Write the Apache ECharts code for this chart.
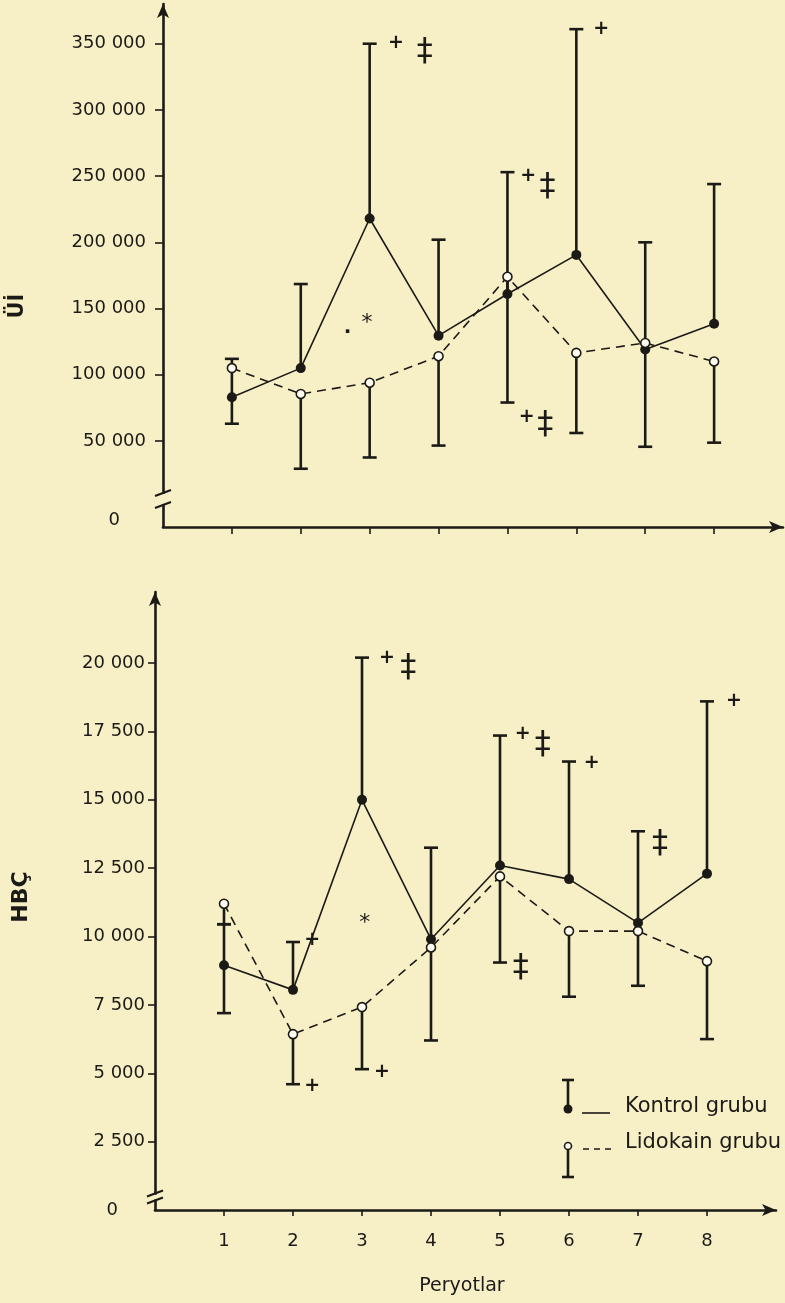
<!DOCTYPE html>
<html><head><meta charset="utf-8">
<script src="https://cdn.jsdelivr.net/npm/echarts@6/dist/echarts.min.js"></script>
<style>html,body{margin:0;padding:0;background:#f7f0c6;} #c{width:785px;height:1303px;}</style>
</head><body><div id="c"></div>
<script>
// ---------- data ----------
const periods = [1, 2, 3, 4, 5, 6, 7, 8];
const periodLabels = ['1', '2', '3', '4', '5', '6', '7', '8'];

// Upper panel (Üİ)
const uiKontrol      = [83000, 105000, 218000, 129500, 161000, 190500, 119000, 138500];
const uiLidokain     = [105000, 85500, 94000, 114000, 174000, 116500, 124000, 110000];
const uiKontrolHigh  = [105000, 168500, 350000, 202000, 253000, 361000, null, 244000];
const uiKontrolLow   = [63000, null, null, null, null, null, 45600, null];
const uiLidokainHigh = [112000, null, null, null, null, null, 200000, null];
const uiLidokainLow  = [null, 29000, 37500, 46500, 79000, 56000, null, 48700];
const uiTicks = [50000, 100000, 150000, 200000, 250000, 300000, 350000];
const uiMarks = [
  [3.38, 350800, '+'], [3.80, 344000, '‡'], [2.96, 139200, '*'], [2.68, 131600, '·'],
  [5.30, 250300, '+'], [5.58, 241900, '‡'], [5.28, 68100, '+'], [5.55, 62100, '‡'],
  [6.36, 361300, '+']
];

// Lower panel (HBÇ)
const hbcKontrol      = [8950, 8050, 15000, 9900, 12600, 12100, 10500, 12300];
const hbcLidokain     = [11200, 6430, 7420, 9600, 12200, 10200, 10200, 9100];
const hbcKontrolHigh  = [10450, 9800, 20200, 13250, 17350, 16400, 13850, 18600];
const hbcKontrolLow   = [7200, null, null, null, null, null, null, null];
const hbcLidokainHigh = [null, null, null, null, null, null, null, null];
const hbcLidokainLow  = [10450, 4600, 5150, 6200, 9050, 7800, 8200, 6250];
const hbcTicks = [2500, 5000, 7500, 10000, 12500, 15000, 17500, 20000];
const hbcMarks = [
  [2.28, 9870, '+'], [2.28, 4530, '+'], [3.36, 20200, '+'], [3.67, 19850, '‡'],
  [3.29, 5040, '+'], [3.04, 10490, '*'], [5.33, 17400, '+'], [5.62, 17000, '‡'],
  [5.30, 8850, '‡'], [6.33, 16340, '+'], [7.32, 13410, '‡'], [8.39, 18600, '+']
];

// ---------- style ----------
const INK = '#1c1a16';
const BG = '#f7f0c6';
const FONT = 'DejaVu Sans';

function fmt(v) { return String(v).replace(/\B(?=(\d{3})+(?!\d))/g, ' '); }

function errSeries(ai, vals, ends, others) {
  const data = [];
  periods.forEach((p, i) => { if (ends[i] != null) data.push([p, vals[i], ends[i], others[i]]); });
  return {
    type: 'custom', xAxisIndex: ai, yAxisIndex: ai, clip: false, z: 2, silent: true,
    encode: { x: 0, y: [1, 2] },
    data,
    renderItem(params, api) {
      const p = api.coord([api.value(0), api.value(1)]);
      const e = api.coord([api.value(0), api.value(2)]);
      const ch = [{ type: 'line', shape: { x1: p[0], y1: p[1], x2: e[0], y2: e[1] },
        style: { stroke: INK, lineWidth: 2.6 } }];
      if (api.value(2) !== api.value(3)) {
        ch.push({ type: 'line', shape: { x1: e[0] - 7, y1: e[1], x2: e[0] + 7, y2: e[1] },
          style: { stroke: INK, lineWidth: 2.6 } });
      }
      return { type: 'group', children: ch };
    }
  };
}

function lineSeries(ai, vals, dashed) {
  return {
    type: 'line', xAxisIndex: ai, yAxisIndex: ai, z: 4, silent: true,
    data: periods.map((p, i) => [p, vals[i]]),
    symbol: 'circle', symbolSize: dashed ? 9 : 10,
    itemStyle: dashed ? { color: '#fffdf2', borderColor: INK, borderWidth: 1.6 } : { color: INK },
    lineStyle: { color: INK, width: 1.6, type: dashed ? [9, 6] : 'solid' }
  };
}

function markSeries(ai, marks) {
  return {
    type: 'custom', xAxisIndex: ai, yAxisIndex: ai, clip: false, z: 5, silent: true,
    encode: { x: 0, y: 1 },
    data: marks.map(m => [m[0], m[1]]),
    renderItem(params, api) {
      const c = api.coord([api.value(0), api.value(1)]);
      const t = marks[params.dataIndex][2];
      let font = 'bold 19px ' + FONT;
      if (t === '‡') font = '32px ' + FONT;
      if (t === '*') font = '22px ' + FONT;
      if (t === '·') font = 'bold 20px ' + FONT;
      return { type: 'text', x: c[0], y: c[1],
        style: { text: t, font, fill: INK, align: 'center', verticalAlign: 'middle' } };
    }
  };
}

function breakSeries(ai, yA, yB) {
  return {
    type: 'custom', xAxisIndex: ai, yAxisIndex: ai, clip: false, z: 6, silent: true,
    encode: { x: 0, y: [1, 2] },
    data: [[0, yA, yB]],
    renderItem(params, api) {
      const a = api.coord([0, api.value(1)]);
      const b = api.coord([0, api.value(2)]);
      return { type: 'group', children: [
        { type: 'rect', shape: { x: a[0] - 4, y: a[1] + 1, width: 8, height: b[1] - a[1] - 2 },
          style: { fill: BG } },
        { type: 'line', shape: { x1: a[0] - 8, y1: a[1] + 3, x2: a[0] + 8, y2: a[1] - 3 },
          style: { stroke: INK, lineWidth: 2.2 } },
        { type: 'line', shape: { x1: b[0] - 8, y1: b[1] + 3, x2: b[0] + 8, y2: b[1] - 3 },
          style: { stroke: INK, lineWidth: 2.2 } }
      ]};
    }
  };
}

const axisLineStyle = { color: INK, width: 2.6 };

const option = {
  backgroundColor: BG,
  animation: false,
  grid: [
    { left: 163, top: 4, width: 620, height: 523 },
    { left: 155, top: 592, width: 621, height: 618 }
  ],
  xAxis: [
    { type: 'value', gridIndex: 0, min: 0, max: 9, splitLine: { show: false },
      axisLine: { onZero: false, lineStyle: axisLineStyle, symbol: ['none', 'arrow'], symbolSize: [9, 14] },
      axisTick: { show: true, inside: false, length: 7, customValues: periods, lineStyle: { color: INK, width: 1.6 } },
      axisLabel: { show: false } },
    { type: 'value', gridIndex: 1, min: 0, max: 9, splitLine: { show: false },
      axisLine: { onZero: false, lineStyle: axisLineStyle, symbol: ['none', 'arrow'], symbolSize: [9, 14] },
      axisTick: { show: true, inside: false, length: 6, customValues: periods, lineStyle: { color: INK, width: 1.6 } },
      axisLabel: { show: true, customValues: periods, margin: 22, color: INK, fontFamily: FONT, fontSize: 18,
        formatter: v => periodLabels[periods.indexOf(v)] } }
  ],
  yAxis: [
    { type: 'value', gridIndex: 0, min: -15000, max: 380000, splitLine: { show: false },
      axisLine: { onZero: false, lineStyle: axisLineStyle, symbol: ['none', 'arrow'], symbolSize: [9, 14] },
      axisTick: { show: true, length: 8, customValues: uiTicks, lineStyle: { color: INK, width: 1.6 } },
      axisLabel: { show: true, customValues: [-10000].concat(uiTicks), margin: 17, color: INK,
        fontFamily: FONT, fontSize: 18,
        formatter: v => v <= 0 ? '{z|0}' : fmt(v),
        rich: { z: { padding: [0, 26, 0, 0], color: INK, fontFamily: FONT, fontSize: 18 } } } },
    { type: 'value', gridIndex: 1, min: 0, max: 22600, splitLine: { show: false },
      axisLine: { onZero: false, lineStyle: axisLineStyle, symbol: ['none', 'arrow'], symbolSize: [9, 14] },
      axisTick: { show: true, length: 7, customValues: hbcTicks, lineStyle: { color: INK, width: 1.6 } },
      axisLabel: { show: true, customValues: [0].concat(hbcTicks), margin: 10, color: INK,
        fontFamily: FONT, fontSize: 18,
        formatter: v => v <= 0 ? '{z|0}' : fmt(v),
        rich: { z: { padding: [0, 27, 0, 0], color: INK, fontFamily: FONT, fontSize: 18 } } } }
  ],
  series: [
    errSeries(0, uiKontrol, uiKontrolHigh, uiLidokain),
    errSeries(0, uiKontrol, uiKontrolLow, uiLidokain),
    errSeries(0, uiLidokain, uiLidokainHigh, uiKontrol),
    errSeries(0, uiLidokain, uiLidokainLow, uiKontrol),
    lineSeries(0, uiKontrol, false),
    lineSeries(0, uiLidokain, true),
    markSeries(0, uiMarks),
    breakSeries(0, 10700, 1600),

    errSeries(1, hbcKontrol, hbcKontrolHigh, hbcLidokain),
    errSeries(1, hbcKontrol, hbcKontrolLow, hbcLidokain),
    errSeries(1, hbcLidokain, hbcLidokainHigh, hbcKontrol),
    errSeries(1, hbcLidokain, hbcLidokainLow, hbcKontrol),
    lineSeries(1, hbcKontrol, false),
    lineSeries(1, hbcLidokain, true),
    markSeries(1, hbcMarks),
    breakSeries(1, 600, 350)
  ],
  graphic: [
    { type: 'text', x: 18, y: 306, rotation: Math.PI / 2,
      style: { text: 'Üİ', font: 'bold 21px ' + FONT, fill: INK, align: 'center', verticalAlign: 'middle' } },
    { type: 'text', x: 21, y: 897, rotation: Math.PI / 2,
      style: { text: 'HBÇ', font: 'bold 22px ' + FONT, fill: INK, align: 'center', verticalAlign: 'middle' } },
    { type: 'text', x: 462, y: 1286,
      style: { text: 'Peryotlar', font: '19px ' + FONT, fill: INK, align: 'center', verticalAlign: 'middle' } },
    // legend: Kontrol
    { type: 'line', shape: { x1: 568, y1: 1080, x2: 568, y2: 1109 }, style: { stroke: INK, lineWidth: 2.6 } },
    { type: 'line', shape: { x1: 562, y1: 1080, x2: 574, y2: 1080 }, style: { stroke: INK, lineWidth: 2.6 } },
    { type: 'circle', shape: { cx: 568, cy: 1109, r: 4.5 }, style: { fill: INK } },
    { type: 'line', shape: { x1: 582, y1: 1113, x2: 610, y2: 1113 }, style: { stroke: INK, lineWidth: 1.6 } },
    { type: 'text', x: 625, y: 1107,
      style: { text: 'Kontrol grubu', font: '21px ' + FONT, fill: INK, align: 'left', verticalAlign: 'middle' } },
    // legend: Lidokain
    { type: 'line', shape: { x1: 568, y1: 1150, x2: 568, y2: 1177 }, style: { stroke: INK, lineWidth: 2.6 } },
    { type: 'line', shape: { x1: 562, y1: 1177, x2: 574, y2: 1177 }, style: { stroke: INK, lineWidth: 2.6 } },
    { type: 'circle', shape: { cx: 568, cy: 1146, r: 3.5 }, style: { fill: '#fffdf2', stroke: INK, lineWidth: 1.6 } },
    { type: 'line', shape: { x1: 583, y1: 1149, x2: 612, y2: 1149 }, style: { stroke: INK, lineWidth: 1.6, lineDash: [6, 5] } },
    { type: 'text', x: 625, y: 1143,
      style: { text: 'Lidokain grubu', font: '21px ' + FONT, fill: INK, align: 'left', verticalAlign: 'middle' } }
  ]
};

const chart = echarts.init(document.getElementById('c'), null, { renderer: 'canvas' });
chart.setOption(option);
</script>
</body></html>
